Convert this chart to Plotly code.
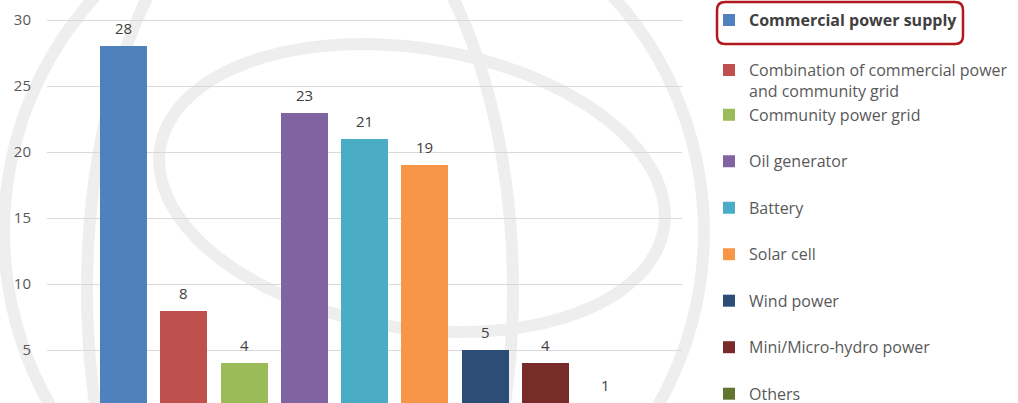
import math
import plotly.graph_objects as go

# ---- data ----
categories = [
    "Commercial power supply",
    "Combination of commercial power<br>and community grid",
    "Community power grid",
    "Oil generator",
    "Battery",
    "Solar cell",
    "Wind power",
    "Mini/Micro-hydro power",
    "Others",
]
values = [28, 8, 4, 23, 21, 19, 5, 4, 1]
colors = ["#4F81BD", "#C0504D", "#9BBB59", "#8064A2", "#4BACC6",
          "#F79646", "#2C4D75", "#772C2A", "#5F7530"]
legend_groups = ["g1", "g2", "g2", "g4", "g5", "g6", "g7", "g8", "g9"]
y_ticks = [5, 10, 15, 20, 25, 30]

W, H = 1018, 403
PL, PR = 47, 682  # plot area in px


def fx(px):
    return (px - PL) / (PR - PL)


def fy(py):
    return (H - py) / H


fig = go.Figure()
for i, (name, v, c, g) in enumerate(zip(categories, values, colors, legend_groups)):
    disp = f"<b><span style='color:#404040'>{name}</span></b>" if i == 0 else name
    fig.add_trace(go.Bar(
        x=[i], y=[v], width=0.78, name=disp, marker_color=c,
        marker_line_width=0, legendgroup=g, hoverinfo="y",
        legend="legend2" if i == 0 else "legend",
    ))

annotations = []
for i, v in enumerate(values):
    annotations.append(dict(
        x=i, y=v, xref="x", yref="y", text=str(v), showarrow=False,
        yshift=18, font=dict(family="Open Sans", size=15, color="#404040"),
    ))

shapes = []


def ellipse_path(cx, cy, rx, ry, rot_deg, n=120):
    r = math.radians(rot_deg)
    pts = []
    for k in range(n + 1):
        t = 2 * math.pi * k / n
        x = rx * math.cos(t)
        y = ry * math.sin(t)
        X = cx + x * math.cos(r) - y * math.sin(r)
        Y = cy + x * math.sin(r) + y * math.cos(r)
        pts.append((fx(X), fy(Y)))
    return "M" + " L".join(f"{a:.5f},{b:.5f}" for a, b in pts) + " Z"


# faint globe watermark
wm = dict(color="#EFEEEE", width=12)
for (cx, cy, rx, ry, rot) in [
    (354, 232, 350, 350, 0),
    (412, 188, 255, 140, 9),
    (300, 290, 213, 420, 0),
]:
    shapes.append(dict(type="path", xref="paper", yref="paper",
                       path=ellipse_path(cx, cy, rx, ry, rot),
                       line=wm, layer="below"))

# rounded highlight box around first legend entry
x0, x1, y0, y1, rr = 717, 963, 2, 44, 8
p = (f"M{fx(x0+rr)},{fy(y0)} L{fx(x1-rr)},{fy(y0)} Q{fx(x1)},{fy(y0)} {fx(x1)},{fy(y0+rr)} "
     f"L{fx(x1)},{fy(y1-rr)} Q{fx(x1)},{fy(y1)} {fx(x1-rr)},{fy(y1)} "
     f"L{fx(x0+rr)},{fy(y1)} Q{fx(x0)},{fy(y1)} {fx(x0)},{fy(y1-rr)} "
     f"L{fx(x0)},{fy(y0+rr)} Q{fx(x0)},{fy(y0)} {fx(x0+rr)},{fy(y0)} Z")
shapes.append(dict(type="path", xref="paper", yref="paper", path=p,
                   line=dict(color="#B2171E", width=2.5), layer="above"))

legend_common = dict(xref="container", yref="container", x=709 / W,
                     xanchor="left", yanchor="top", tracegroupgap=22.7,
                     valign="top", maxheight=800, bgcolor="rgba(0,0,0,0)",
                     font=dict(family="Open Sans", size=16, color="#595959"))

fig.update_layout(
    width=W, height=H, autosize=False,
    margin=dict(l=PL, r=W - PR, t=0, b=0, pad=0),
    paper_bgcolor="white", plot_bgcolor="rgba(0,0,0,0)",
    barmode="overlay", bargap=0,
    font=dict(family="Open Sans", size=15, color="#595959"),
    xaxis=dict(range=[-1.269, 9.264], showticklabels=False, showgrid=False,
               zeroline=False, showline=False, fixedrange=True),
    yaxis=dict(range=[1.0, 31.52], tickvals=y_ticks, showgrid=True,
               gridcolor="#D9D9D9", gridwidth=1, zeroline=False, showline=False,
               ticks="", ticklabelstandoff=15,
               tickfont=dict(family="Open Sans", size=15, color="#595959")),
    legend=dict(y=0.868, **legend_common),
    legend2=dict(y=0.9922, **legend_common),
    showlegend=True,
    annotations=annotations,
    shapes=shapes,
)

fig.write_html(
    "out.html",
    config={"displayModeBar": False},
    post_script="document.body.style.margin='0';document.documentElement.style.overflow='hidden';",
)
